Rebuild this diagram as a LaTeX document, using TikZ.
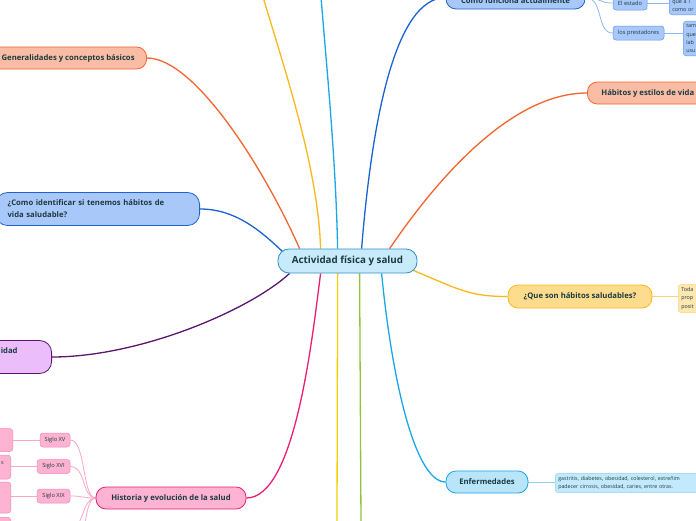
\documentclass[tikz,border=0pt]{standalone}
\usepackage{fontspec}
\setmainfont{Open Sans}
\pgfdeclarelayer{paper}
\pgfdeclarelayer{lines}
\pgfsetlayers{paper,lines,main}
\definecolor{txtc}{HTML}{1C3B40}
\definecolor{cfill}{HTML}{C7EBFB}
\definecolor{cbord}{HTML}{2F8FCB}
\definecolor{orline}{HTML}{F2652E}
\definecolor{orfill}{HTML}{FBBCA5}
\definecolor{blline}{HTML}{1C63D2}
\definecolor{blfill}{HTML}{A9C8FA}
\definecolor{blsub}{HTML}{5E97EE}
\definecolor{blthin}{HTML}{8FB7F3}
\definecolor{puline}{HTML}{5B1670}
\definecolor{pufill}{HTML}{EBBDFA}
\definecolor{pkline}{HTML}{EB1E72}
\definecolor{pkfill}{HTML}{FDB3D1}
\definecolor{pksub}{HTML}{F589B7}
\definecolor{pkthin}{HTML}{F8A7C8}
\definecolor{yeline}{HTML}{FAB81C}
\definecolor{yefill}{HTML}{FEDC8E}
\definecolor{yeleaf}{HTML}{FEE8B0}
\definecolor{yethin}{HTML}{FDD27A}
\definecolor{goldline}{HTML}{F2CF00}
\definecolor{grline}{HTML}{8CC63E}
\definecolor{cyline}{HTML}{1BA6E8}
\definecolor{cyfill}{HTML}{B8E5FA}
\definecolor{cyleaf}{HTML}{C3EAFC}
\definecolor{cythin}{HTML}{8ED3F5}
\begin{document}
\begin{tikzpicture}[x=1pt,y=-1pt,
  base/.style={text=txtc, line width=0.8pt},
  topic/.style={base, rounded corners=10pt, font=\fontsize{7.7}{12}\selectfont\bfseries, minimum height=22pt, inner ysep=2pt},
  central/.style={base, draw=cbord, fill=cfill, rounded corners=11pt, font=\fontsize{9.8}{11}\selectfont\bfseries, minimum width=139pt, minimum height=24pt},
  subt/.style={text=txtc, line width=0.5pt, rounded corners=3pt, font=\fontsize{5.7}{6.5}\selectfont, minimum height=14pt, inner xsep=3pt, inner ysep=1pt},
  leafn/.style={text=txtc, line width=0.5pt, rounded corners=3pt, font=\fontsize{5.4}{8.3}\selectfont, align=left, inner sep=3pt},
  br/.style={line width=1.3pt},
  thn/.style={line width=0.8pt}]
\useasboundingbox (0,0) rectangle (696,520);
\begin{pgfonlayer}{paper}
\fill[white] (0,0) rectangle (696,520);
\end{pgfonlayer}
\clip (0,0) rectangle (696,520);

% central
\node[central] (c) at (347.5,261) {Actividad física y salud};

% left topics
\node[topic, fill=orfill, draw=orline, anchor=east, inner xsep=12pt] (gen) at (147,58) {Generalidades y conceptos básicos};
\node[topic, fill=blfill, draw=blline, anchor=east, text width=180pt, align=left, inner xsep=12pt, minimum height=33pt, rounded corners=12pt] (ide) at (200,209) {¿Como identificar si tenemos hábitos de\\vida saludable?};
\node[topic, fill=pufill, draw=puline, anchor=east, text width=60pt, align=right, inner xsep=34pt, minimum height=33pt, rounded corners=12pt] (pur) at (52,357) {idad\\\mbox{}};
\node[topic, fill=pkfill, draw=pkline, minimum width=150pt] (his) at (171,498) {Historia y evolución de la salud};

% historia sub nodes
\node[subt, fill=pkfill, draw=pksub, minimum width=30pt] (s15) at (55,440) {Siglo XV};
\node[subt, fill=pkfill, draw=pksub, minimum width=33pt] (s16) at (53.5,466.5) {Siglo XVI};
\node[subt, fill=pkfill, draw=pksub, minimum width=33pt] (s19) at (53.5,496) {Siglo XIX};
\node[leafn, fill=pkfill, draw=pksub, anchor=east, minimum width=40pt, minimum height=23pt] (l15) at (13,440) {};
\node[leafn, fill=pkfill, draw=pksub, anchor=east, text width=30pt, align=right, inner xsep=7pt, minimum height=24pt] (l16) at (11,467) {s\\\mbox{}};
\node[leafn, fill=pkfill, draw=pksub, anchor=east, minimum width=40pt, minimum height=31pt] (l19) at (11,497.5) {};
\node[leafn, fill=pkfill, draw=pksub, anchor=north east, minimum width=40pt, minimum height=30pt] (l20) at (11,517) {};
\coordinate (h4) at (70,530);
\coordinate (h5) at (74,562);

% right topics
\node[topic, fill=blfill, draw=blline, minimum width=139pt, minimum height=23pt] (com) at (515.5,-2.5) {\smash{\raisebox{-5.5pt}{Como funciona actualmente}}};
\node[subt, fill=blfill, draw=blsub, minimum width=34pt] (est) at (630,3) {El estado};
\node[subt, fill=blfill, draw=blsub, minimum width=51pt] (pre) at (638.5,33) {los prestadores};
\node[leafn, fill=blfill, draw=blsub, anchor=south west, text width=40pt] (lest) at (669,15) {que a l\\como or};
\node[leafn, fill=blfill, draw=blsub, anchor=west, text width=30pt] (lpre) at (683,38.5) {tam\\que\\lab\\usu};

\node[topic, fill=orfill, draw=orline, anchor=west, inner xsep=14pt] (hab) at (587,93) {Hábitos y estilos de vida};

\node[topic, fill=yefill, draw=yeline, minimum width=144pt, minimum height=23pt] (que) at (580,296.5) {¿Que son hábitos saludables?};
\node[leafn, fill=yeleaf, draw=yethin, anchor=west, text width=40pt] (lque) at (678,298.5) {Toda\\prop\\posit};

\node[topic, fill=cyfill, draw=cyline, minimum width=82pt] (enf) at (487,482) {Enfermedades};
\node[leafn, fill=cyleaf, draw=cythin, anchor=west, text width=170pt, font=\fontsize{5.3}{8}\selectfont] (lenf) at (555,483) {gastritis, diabetes, obesidad, colesterol, estreñim\\padecer cirrosis, obesidad, caries, entre otras.};

% free ends
\coordinate (ytop) at (263,-3);
\coordinate (ctop) at (321,-3);
\coordinate (ybot) at (337,523);
\coordinate (gbot) at (361,523);

\begin{pgfonlayer}{lines}
% main branches
\draw[br, orline] ([xshift=22pt]c.north west) .. controls (265,170) and (195,58) .. (gen.east);
\draw[br, yeline] ([xshift=43pt]c.north west) .. controls (318,170) and (288,80) .. (ytop);
\draw[br, cyline] ([xshift=60pt]c.north west) .. controls (336,160) and (326,60) .. (ctop);
\draw[br, blline] ([xshift=84pt]c.north west) .. controls (372,120) and (395,-2) .. (com.west);
\draw[br, orline] ([xshift=112pt]c.north west) .. controls (450,160) and (520,93) .. (hab.west);
\draw[br, blline] ([xshift=6pt,yshift=-4pt]c.north west) .. controls (260,230) and (235,209) .. (ide.east);
\draw[br, puline] ([xshift=12pt]c.south west) .. controls (250,310) and (140,357) .. (pur.east);
\draw[br, pkline] ([xshift=43pt]c.south west) .. controls (312,340) and (295,498) .. (his.east);
\draw[br, goldline] ([xshift=60pt]c.south west) -- (ybot);
\draw[br, grline] ([xshift=82pt]c.south west) -- (gbot);
\draw[br, cyline] ([xshift=104pt]c.south west) .. controls (392,380) and (415,482) .. (enf.west);
\draw[br, yeline] ([xshift=-4pt,yshift=3pt]c.south east) .. controls (460,290) and (470,296.5) .. (que.west);

% sub branches
\draw[thn, blthin] (com.east) .. controls (602,-2) and (598,3) .. (est.west);
\draw[thn, blthin] (com.east) .. controls (604,-2) and (596,33) .. (pre.west);
\draw[thn, blthin] (est.east) -- (est.east -| lest.west);
\draw[thn, blthin] (pre.east) -- (pre.east -| lpre.west);
\draw[thn, yethin] (que.east) -- (que.east -| lque.west);
\draw[thn, cythin] (enf.east) -- (enf.east -| lenf.west);
\draw[thn, pkthin] (his.west) .. controls (82,498) and (86,440) .. (s15.east);
\draw[thn, pkthin] (his.west) .. controls (82,498) and (86,466.5) .. (s16.east);
\draw[thn, pkthin] (his.west) .. controls (82,498) and (84,496) .. (s19.east);
\draw[thn, pkthin] (his.west) .. controls (82,498) and (84,528) .. (h4);
\draw[thn, pkthin] (his.west) .. controls (82,498) and (86,560) .. (h5);
\draw[thn, pkthin] (s15.west) -- (s15.west -| l15.east);
\draw[thn, pkthin] (s16.west) -- (s16.west -| l16.east);
\draw[thn, pkthin] (s19.west) -- (s19.west -| l19.east);
\end{pgfonlayer}
\end{tikzpicture}
\end{document}
